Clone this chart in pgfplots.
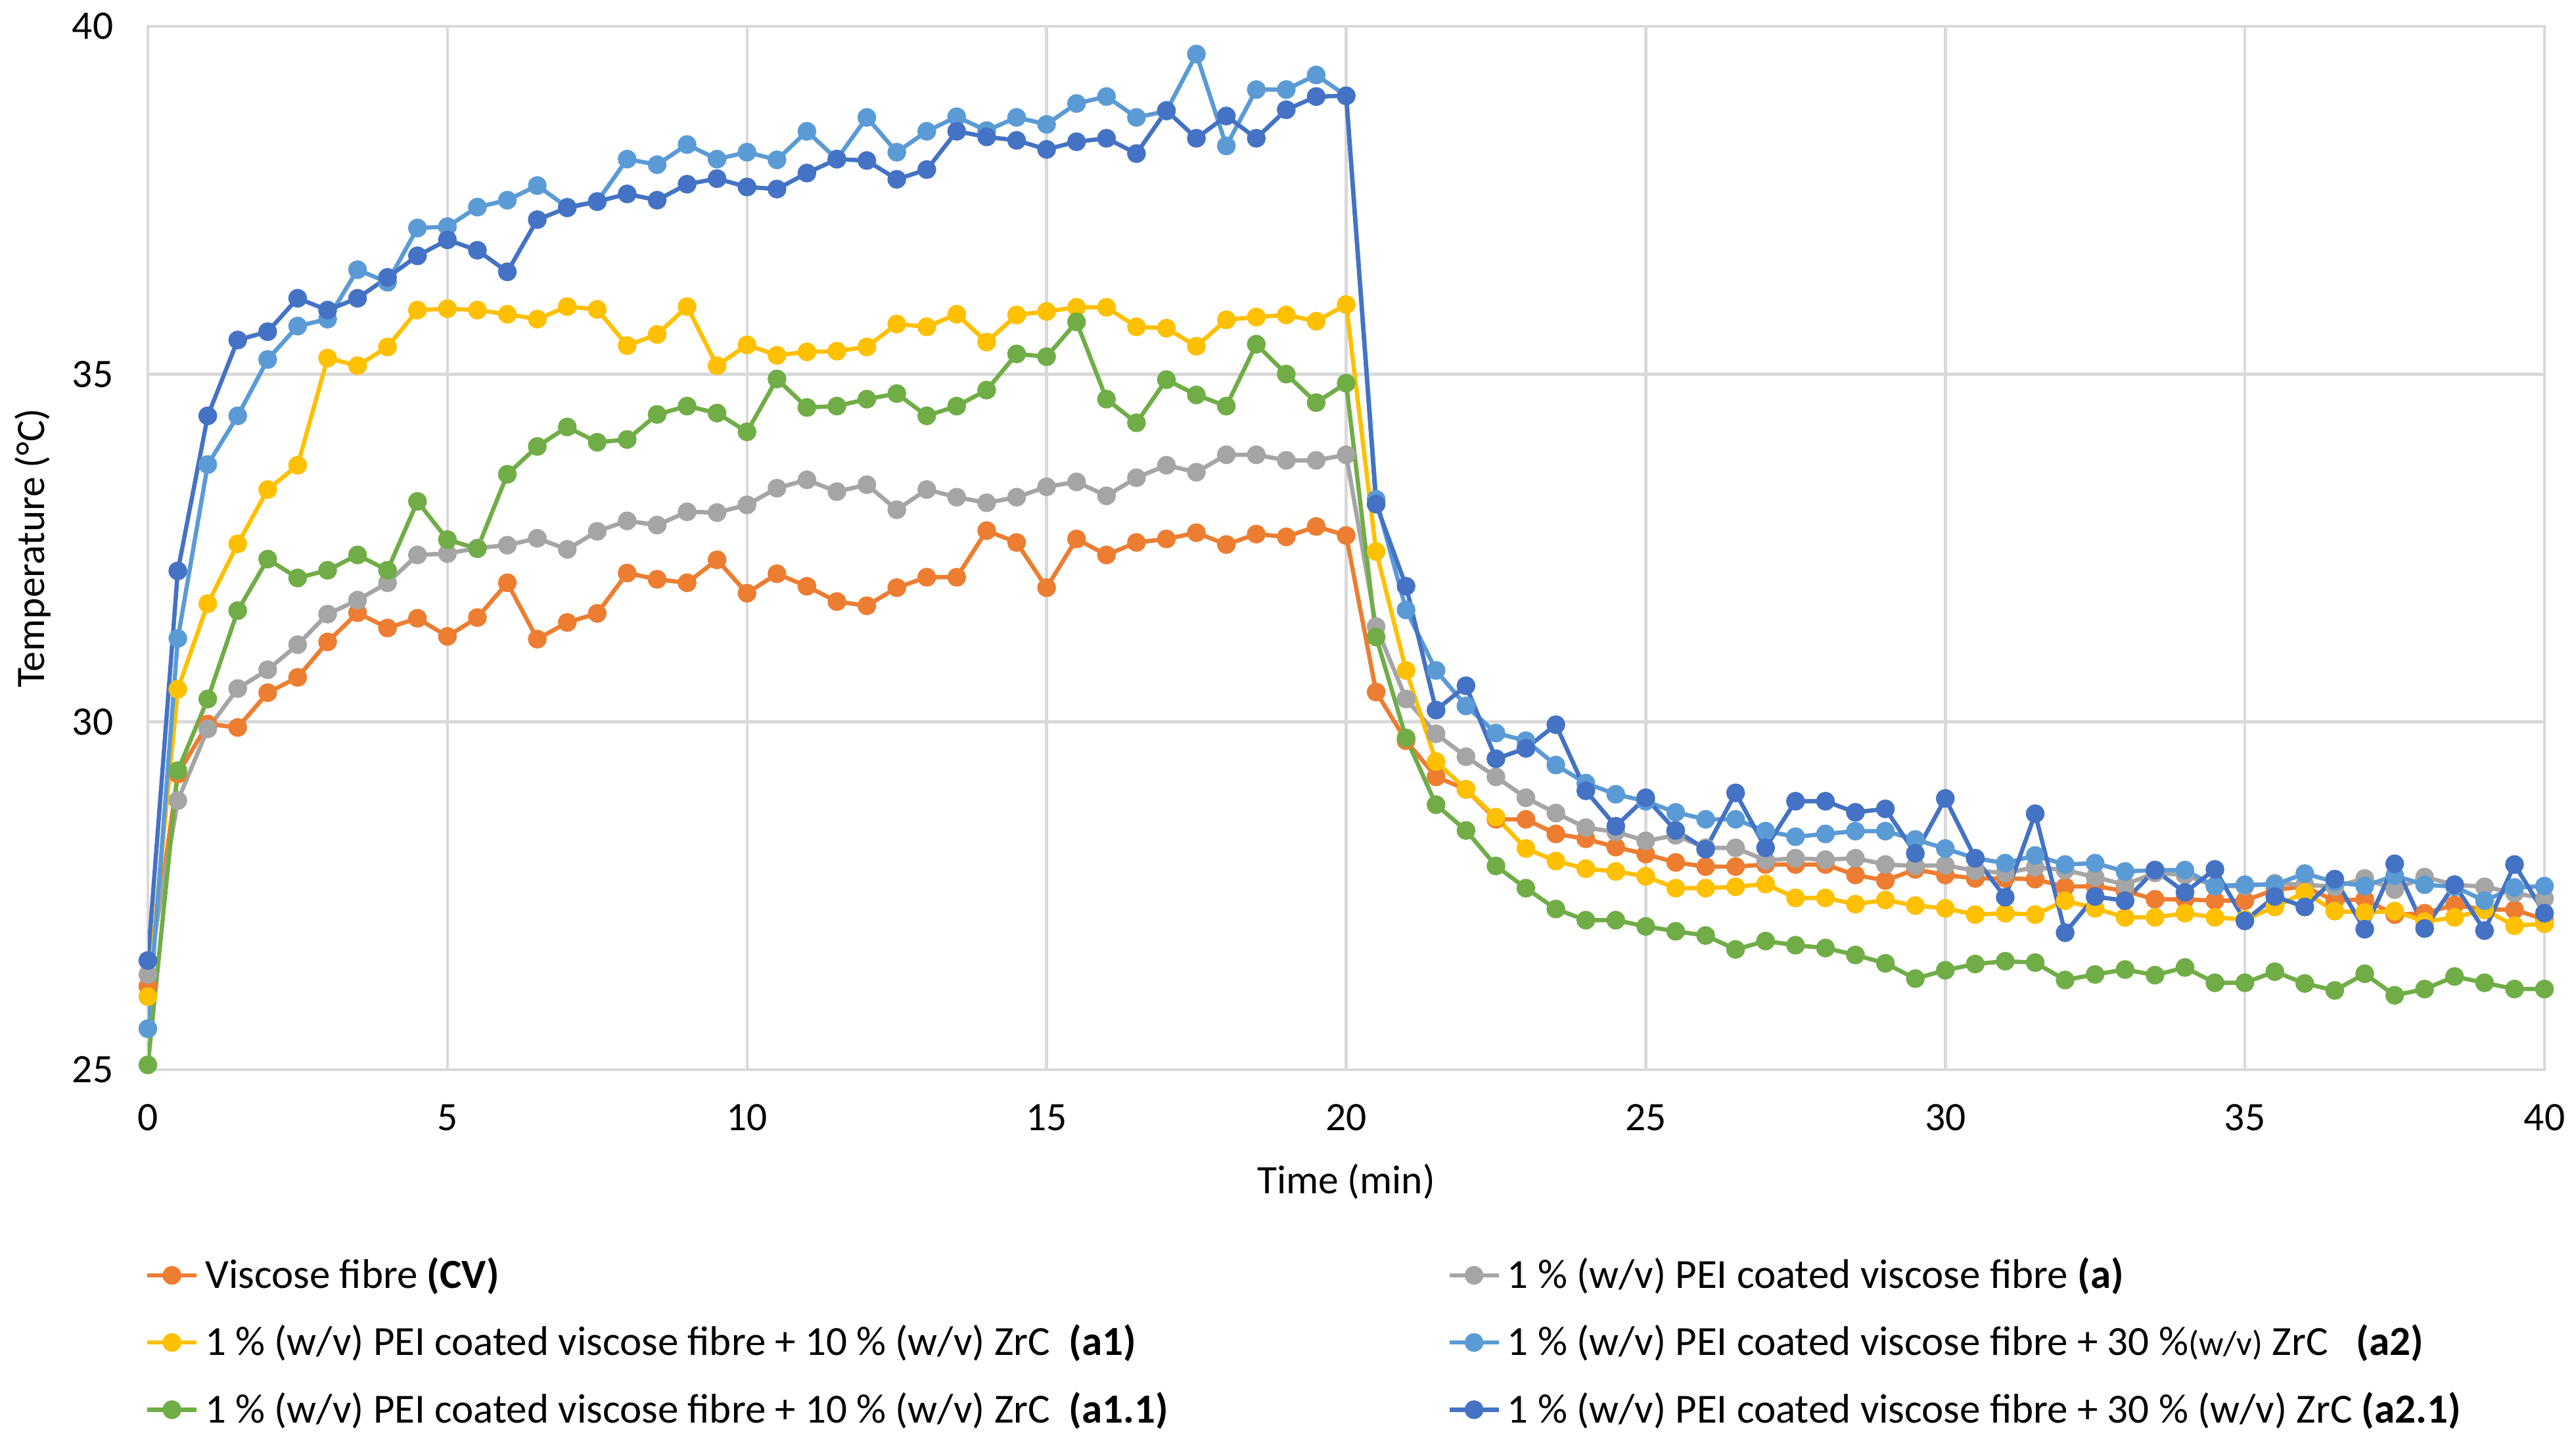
\documentclass[border=0pt]{standalone}
\usepackage{fontspec}
\setmainfont{Carlito}
\usepackage{pgfplots}
\pgfplotsset{compat=1.18}
\usepackage{pgfplotstable}
\definecolor{ccv}{HTML}{ED7D31}
\definecolor{ca}{HTML}{A5A5A5}
\definecolor{caone}{HTML}{FFC000}
\definecolor{catwo}{HTML}{5B9BD5}
\definecolor{caoneone}{HTML}{70AD47}
\definecolor{catwoone}{HTML}{4472C4}
\definecolor{gridgray}{HTML}{D9D9D9}
\pgfplotstableread{
t cv a a1 a2 a11 a21
0 26.2 26.37 26.05 25.59 25.07 26.57
0.5 29.25 28.87 30.47 31.2 29.3 32.17
1 29.97 29.9 31.7 33.7 30.33 34.4
1.5 29.92 30.48 32.56 34.4 31.6 35.49
2 30.42 30.75 33.34 35.21 32.34 35.61
2.5 30.64 31.11 33.69 35.69 32.07 36.09
3 31.15 31.55 35.23 35.79 32.18 35.92
3.5 31.57 31.75 35.12 36.5 32.4 36.09
4 31.35 32.0 35.39 36.32 32.18 36.39
4.5 31.49 32.4 35.92 37.1 33.17 36.7
5 31.23 32.42 35.94 37.12 32.62 36.93
5.5 31.5 32.5 35.92 37.4 32.49 36.78
6 32.0 32.54 35.86 37.5 33.56 36.47
6.5 31.19 32.64 35.79 37.71 33.96 37.22
7 31.43 32.48 35.97 37.4 34.24 37.39
7.5 31.56 32.74 35.93 37.48 34.02 37.48
8 32.14 32.89 35.41 38.09 34.06 37.59
8.5 32.05 32.83 35.57 38.01 34.42 37.5
9 32.0 33.02 35.97 38.3 34.54 37.73
9.5 32.33 33.01 35.12 38.09 34.44 37.81
10 31.85 33.12 35.42 38.19 34.17 37.69
10.5 32.13 33.36 35.27 38.08 34.93 37.66
11 31.95 33.48 35.32 38.49 34.52 37.89
11.5 31.73 33.31 35.33 38.09 34.54 38.09
12 31.67 33.41 35.39 38.69 34.64 38.07
12.5 31.93 33.05 35.72 38.19 34.72 37.8
13 32.08 33.34 35.68 38.49 34.4 37.94
13.5 32.08 33.23 35.86 38.7 34.54 38.49
14 32.75 33.15 35.46 38.5 34.77 38.41
14.5 32.58 33.23 35.85 38.69 35.29 38.36
15 31.93 33.38 35.9 38.59 35.25 38.23
15.5 32.63 33.45 35.96 38.89 35.75 38.34
16 32.4 33.25 35.96 38.99 34.64 38.39
16.5 32.58 33.51 35.68 38.69 34.3 38.17
17 32.63 33.69 35.66 38.78 34.92 38.79
17.5 32.72 33.59 35.4 39.6 34.7 38.39
18 32.55 33.84 35.78 38.28 34.54 38.71
18.5 32.7 33.84 35.82 39.09 35.43 38.39
19 32.66 33.76 35.85 39.09 35.0 38.8
19.5 32.81 33.76 35.76 39.3 34.59 38.99
20 32.68 33.84 36.0 39.0 34.87 39.0
20.5 30.43 31.37 32.45 33.2 31.22 33.13
21 29.73 30.33 30.74 31.61 29.77 31.95
21.5 29.21 29.83 29.43 30.74 28.81 30.17
22 29.03 29.5 29.03 30.23 28.44 30.52
22.5 28.6 29.21 28.63 29.84 27.93 29.47
23 28.6 28.91 28.18 29.73 27.61 29.62
23.5 28.39 28.69 28.0 29.38 27.31 29.96
24 28.32 28.48 27.89 29.12 27.15 29.01
24.5 28.2 28.42 27.85 28.96 27.15 28.5
25 28.1 28.29 27.78 28.86 27.06 28.91
25.5 27.98 28.37 27.61 28.7 26.99 28.44
26 27.92 28.19 27.61 28.6 26.93 28.17
26.5 27.92 28.19 27.63 28.6 26.73 28.98
27 27.95 28.01 27.67 28.43 26.85 28.19
27.5 27.95 28.04 27.47 28.35 26.79 28.86
28 27.95 28.02 27.47 28.39 26.75 28.86
28.5 27.8 28.04 27.38 28.43 26.65 28.7
29 27.72 27.95 27.44 28.43 26.53 28.75
29.5 27.88 27.93 27.36 28.31 26.31 28.11
30 27.8 27.94 27.32 28.18 26.43 28.9
30.5 27.75 27.86 27.23 28.04 26.52 28.04
31 27.75 27.83 27.25 27.97 26.56 27.48
31.5 27.74 27.91 27.23 28.08 26.54 28.68
32 27.63 27.87 27.43 27.95 26.29 26.97
32.5 27.64 27.77 27.32 27.97 26.37 27.49
33 27.57 27.66 27.19 27.85 26.44 27.43
33.5 27.45 27.83 27.19 27.87 26.36 27.87
34 27.45 27.8 27.25 27.87 26.47 27.55
34.5 27.43 27.64 27.19 27.64 26.25 27.88
35 27.43 27.64 27.16 27.66 26.25 27.14
35.5 27.59 27.68 27.34 27.66 26.41 27.49
36 27.63 27.66 27.55 27.82 26.24 27.34
36.5 27.43 27.63 27.28 27.7 26.14 27.74
37 27.45 27.75 27.26 27.64 26.38 27.02
37.5 27.23 27.59 27.28 27.79 26.07 27.96
38 27.25 27.77 27.13 27.66 26.16 27.03
38.5 27.37 27.66 27.19 27.63 26.34 27.66
39 27.3 27.63 27.3 27.43 26.25 27.0
39.5 27.3 27.54 27.07 27.62 26.16 27.95
40 27.16 27.46 27.1 27.64 26.16 27.25
}\data
\begin{document}
\begin{tikzpicture}
\path[use as bounding box] (0,0) rectangle (784pt,438.6pt);
\begin{axis}[
  at={(45pt,113pt)}, anchor=south west,
  scale only axis, width=729.4pt, height=317.6pt,
  xmin=0, xmax=40, ymin=25, ymax=40,
  xtick={0,5,...,40}, ytick={25,30,35,40},
  grid=major,
  major grid style={draw=gridgray, line width=0.9pt},
  axis line style={draw=gridgray, line width=0.9pt},
  tick style={draw=none},
  /pgf/number format/assume math mode=true,
  ticklabel style={font=\fontsize{12.3}{14}\selectfont},
  xticklabel style={yshift=-7pt},
  yticklabel style={xshift=-7pt},
  label style={font=\fontsize{12.3}{14}\selectfont},
  xlabel={Time (min)},
  ylabel={Temperature (°C)},
  xlabel style={at={(axis description cs:0.5,-0.107)}, anchor=center},
  ylabel style={at={(axis description cs:-0.048,0.5)}, anchor=center},
  every axis plot/.append style={line width=1.3pt, mark=*, mark size=2.2pt, mark options={solid}},
  legend columns=2,
  legend cell align=left,
  legend style={at={(axis description cs:-0.0014,-0.173)}, anchor=north west,
    draw=none, fill=none, inner sep=0pt, row sep=5.6pt,
    font=\fontsize{12.6}{14}\selectfont,
    /tikz/every even column/.append style={column sep=0pt}},
  legend image code/.code={\draw[mark repeat=2,mark phase=2] plot coordinates {(0pt,0pt) (7.5pt,0pt) (15pt,0pt)};},
]
\addplot[color=ccv] table[x=t,y=cv] {\data};
\addlegendentry{\makebox[376pt][l]{Viscose fibre \textbf{(CV)}}}
\addplot[color=ca] table[x=t,y=a] {\data};
\addlegendentry{1 \% (w/v) PEI coated viscose fibre \textbf{(a)}}
\addplot[color=caone] table[x=t,y=a1] {\data};
\addlegendentry{\makebox[376pt][l]{1 \% (w/v) PEI coated viscose fibre + 10 \% (w/v) ZrC \ \textbf{(a1)}}}
\addplot[color=catwo] table[x=t,y=a2] {\data};
\addlegendentry{1 \% (w/v) PEI coated viscose fibre + 30 \%{\fontsize{10.5}{12}\selectfont(w/v)} ZrC \ \ \textbf{(a2)}}
\addplot[color=caoneone] table[x=t,y=a11] {\data};
\addlegendentry{\makebox[376pt][l]{1 \% (w/v) PEI coated viscose fibre + 10 \% (w/v) ZrC \ \textbf{(a1.1)}}}
\addplot[color=catwoone] table[x=t,y=a21] {\data};
\addlegendentry{1 \% (w/v) PEI coated viscose fibre + 30 \% (w/v) ZrC \textbf{(a2.1)}}
\end{axis}
\end{tikzpicture}
\end{document}
